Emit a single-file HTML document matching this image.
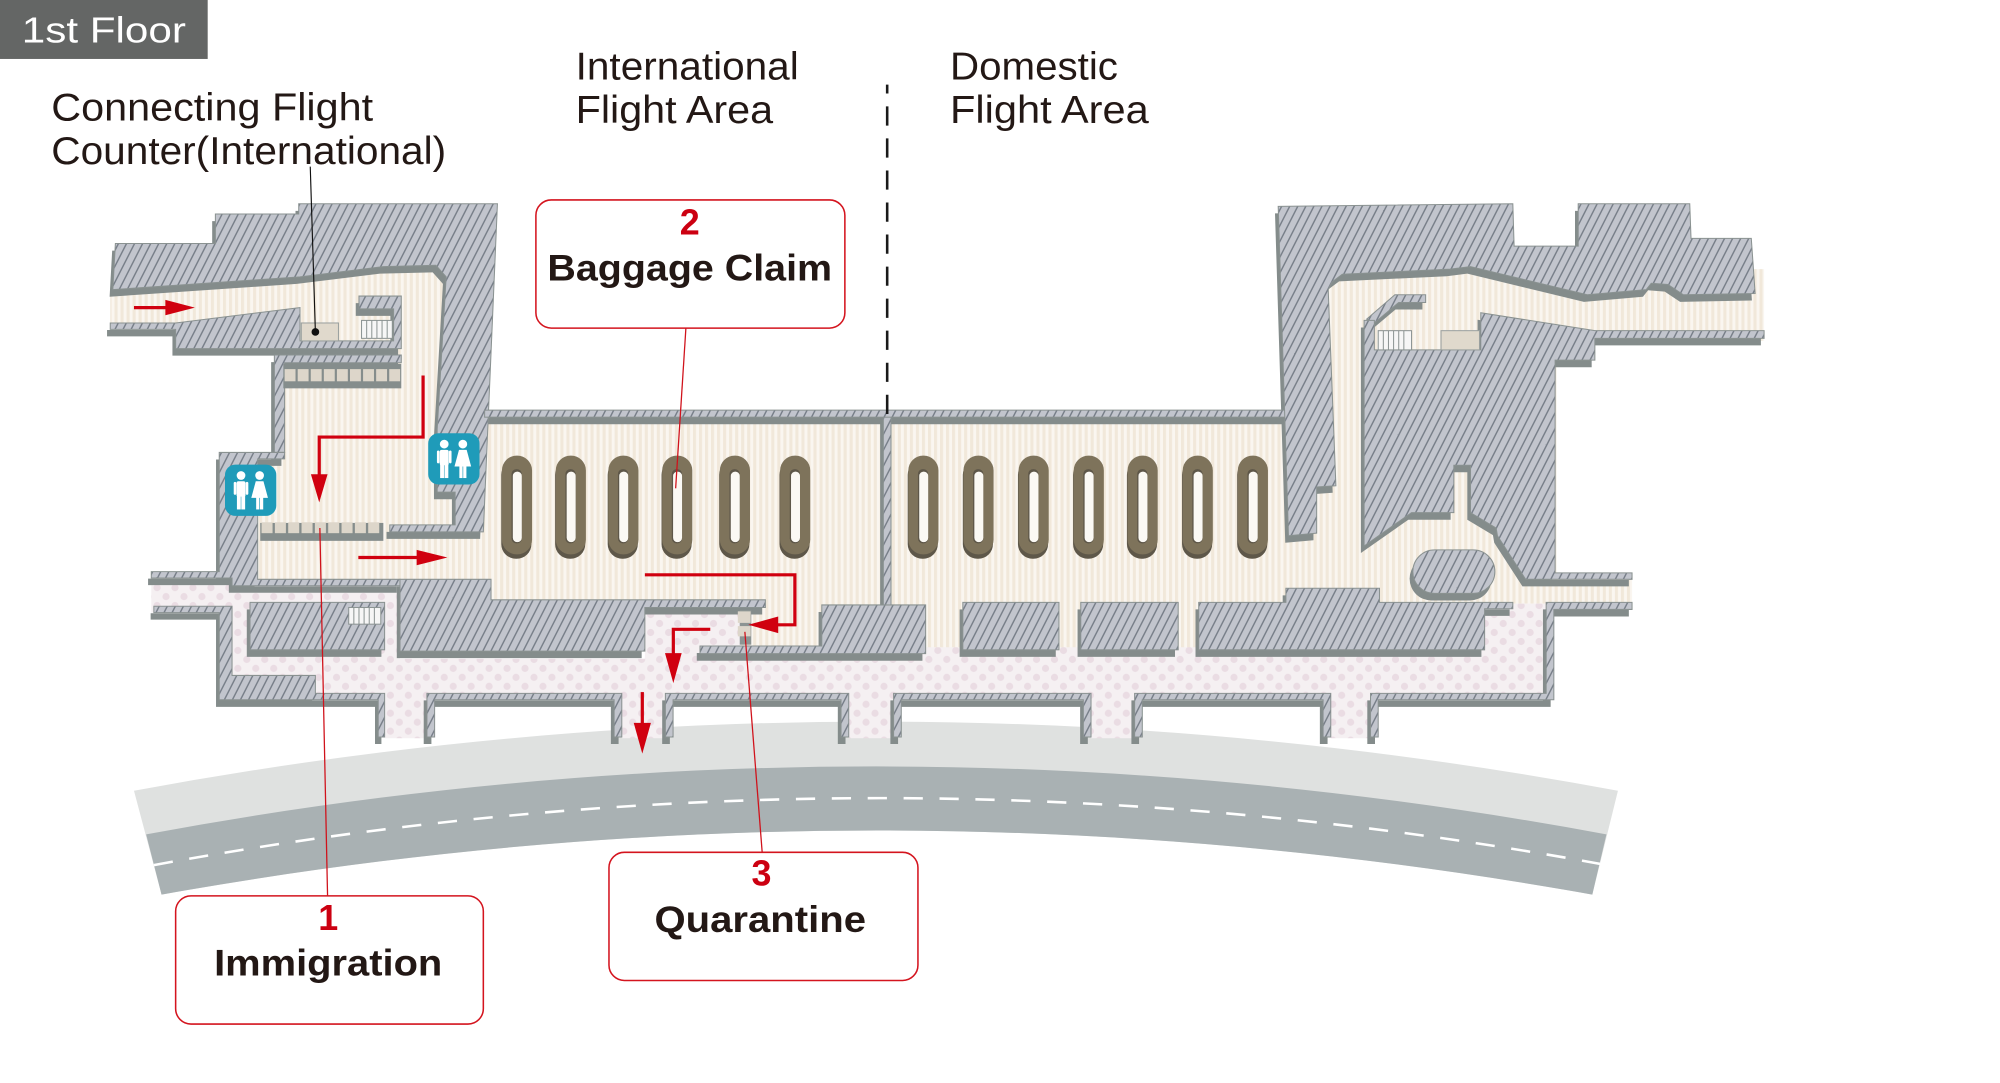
<!DOCTYPE html>
<html><head><meta charset="utf-8"><style>html,body{margin:0;padding:0;background:#fff;}svg{display:block;}</style></head>
<body>
<svg xmlns="http://www.w3.org/2000/svg" width="2000" height="1083" viewBox="0 0 1560 845" preserveAspectRatio="none" font-family="'Liberation Sans', sans-serif">
<defs>
<pattern id="hatch" patternUnits="userSpaceOnUse" width="5.6" height="12" patternTransform="rotate(27)">
<rect width="5.6" height="12" fill="#c2c5cd"/>
<line x1="0.6" y1="0" x2="0.6" y2="12" stroke="#767d87" stroke-width="1.1"/>
</pattern>
<pattern id="stripe" patternUnits="userSpaceOnUse" width="4.7" height="10">
<rect width="4.7" height="10" fill="#faf6f0"/>
<rect width="2.4" height="10" fill="#f1e8da"/>
</pattern>
<pattern id="dots" patternUnits="userSpaceOnUse" width="14" height="14">
<rect width="14" height="14" fill="#f5f0f2"/>
<circle cx="3.5" cy="3.5" r="2.8" fill="#eadce3"/>
<circle cx="10.5" cy="10.5" r="2.8" fill="#eadce3"/>
</pattern>
<g id="walls">
<polygon points="90,190 168,190 168,167 233,167 233,159 388,159 377,415 304,415 304,409.5 355,409.5 355,384 341,384 341,335 348,216 340,207 299,208 234,216 88,226"/>
<polygon points="86,252 137,252 234,240 234,266 307,266 307,241 280,241 280,231 313,231 313,272 137,272 137,257 86,257"/>
<polygon points="214,277 313,277 313,283 222,283 222,353 214,353"/>
<polygon points="171,353 222,353 222,358 201,358 201,452 312,452 312,457 181,457 181,451 118,451 118,446 171,446"/>
<polygon points="120,473 181,473 181,527 246,527 246,541 300,541 300,575 295,575 295,546 171,546 171,478 120,478"/>
<rect x="195" y="470" width="105" height="37"/>
<polygon points="312,452 383,452 383,468 597,468 597,474 503,474 503,508 312,508"/>
<polygon points="546,504 641,504 641,472 722,472 722,510 546,510"/>
<rect x="689" y="325" width="6" height="147"/>
<rect x="378" y="320" width="626" height="5.5"/>
<polygon points="997,161 1180,159 1181,192 1231,192 1231,159 1318,159 1319,186 1366,186 1369,229 1313,230 1301,222 1288,221 1284,226 1238,230 1147,208 1131,210 1047,214 1039,220 1036,226 1042,379 1027,380 1027,416 1005,418"/>
<polygon points="1066,249 1088,230 1112,230 1112,236 1091,236 1072,252"/>
<polygon points="1064,250 1072,250 1072,273 1155,273 1155,244 1244,258 1376,258 1376,264 1244,264 1244,281 1213,281 1213,447 1273,447 1273,452 1190,452 1168,418 1167,412 1147,400 1147,363 1134,363 1134,400 1101,400 1064,426"/>
<rect x="1102" y="429" width="64" height="34" rx="17"/>
<rect x="751" y="470" width="75" height="37"/>
<rect x="843" y="470" width="76" height="37"/>
<polygon points="935,470 1003,470 1003,459 1076,459 1076,470 1180,470 1180,475 1158,475 1158,507 935,507"/>
<polygon points="333,575 333,541 485,541 485,575 479,575 479,546 339,546 339,575"/>
<polygon points="519,575 519,541 662,541 662,575 656,575 656,546 525,546 525,575"/>
<polygon points="697,575 697,541 851,541 851,575 845,575 845,546 703,546 703,575"/>
<polygon points="885,575 885,541 1038,541 1038,575 1032,575 1032,546 891,546 891,575"/>
<polygon points="1069,575 1069,541 1206,541 1206,470 1273,470 1273,475.5 1212,475.5 1212,546 1075,546 1075,575"/>
</g>
<g id="car">
<rect x="-12" y="359" width="23.5" height="77" rx="11.5" fill="#5e5749"/>
<rect x="-11.5" y="355.5" width="23.5" height="77" rx="11.5" fill="#7e735b"/>
<rect x="-4" y="366" width="8" height="58" rx="3.8" fill="#5e5749"/>
<rect x="-3" y="368" width="7" height="55" rx="3.4" fill="#fbf9f4"/>
</g>
<g id="wc">
<rect width="40" height="40" rx="8" fill="#1f9bb9"/>
<circle cx="12.5" cy="8.5" r="3.4" fill="#fff"/>
<rect x="9" y="13" width="7" height="12" rx="1.5" fill="#fff"/>
<rect x="6.8" y="13.5" width="2" height="10" rx="1" fill="#fff"/>
<rect x="16.2" y="13.5" width="2" height="10" rx="1" fill="#fff"/>
<rect x="9.3" y="24" width="3" height="11" fill="#fff"/>
<rect x="12.7" y="24" width="3" height="11" fill="#fff"/>
<circle cx="27" cy="8.5" r="3.4" fill="#fff"/>
<polygon points="24,13 30,13 33.5,26 20.5,26" fill="#fff"/>
<rect x="24.3" y="25" width="2.5" height="10" fill="#fff"/>
<rect x="27.3" y="25" width="2.5" height="10" fill="#fff"/>
</g>
</defs>

<!-- header -->
<rect x="0" y="0" width="162" height="46" fill="#646665"/>
<text x="17" y="33" font-size="28" fill="#fff" textLength="128" lengthAdjust="spacingAndGlyphs">1st Floor</text>

<!-- labels -->
<g fill="#231815" font-size="30">
<text x="40" y="94" textLength="251" lengthAdjust="spacingAndGlyphs">Connecting Flight</text>
<text x="40" y="128" textLength="308" lengthAdjust="spacingAndGlyphs">Counter(International)</text>
<text x="449" y="62" textLength="174" lengthAdjust="spacingAndGlyphs">International</text>
<text x="449" y="96" textLength="154" lengthAdjust="spacingAndGlyphs">Flight Area</text>
<text x="741" y="62" textLength="131" lengthAdjust="spacingAndGlyphs">Domestic</text>
<text x="741" y="96" textLength="155" lengthAdjust="spacingAndGlyphs">Flight Area</text>
</g>

<!-- road -->
<path d="M104.5,617 Q683,509 1262,617 L1242,698 Q684,598 126,698 Z" fill="#dfe1e0"/>
<path d="M114,651 Q683,545 1253,651 L1242,698 Q684,598 126,698 Z" fill="#a9b1b3"/>
<path d="M120,675 Q684,571 1248,674" fill="none" stroke="#fff" stroke-width="2" stroke-dasharray="15 13"/>

<!-- floors -->
<polygon points="86,224 234,214 300,206 340,205 350,213 350,322 384,322 384,463 175,463 175,355 214,355 214,277 137,277 137,253 86,253" fill="url(#stripe)"/>
<polygon points="378,326 1006,326 1006,506 578,506 578,470 378,470" fill="url(#stripe)"/>
<polygon points="1034,210 1376,210 1376,266 1214,266 1214,452 1273,452 1273,471 1158,471 1158,506 1004,506 1004,418 1018,418 1018,330 1034,330" fill="url(#stripe)"/>
<polygon points="118,451 193,451 193,457 312,457 312,514 503,514 503,476 578,476 578,505 1158,505 1158,471 1206,471 1206,546 171,546 171,478 118,478" fill="url(#dots)"/>
<g fill="url(#dots)">
<rect x="300" y="540" width="33" height="36"/>
<rect x="485" y="540" width="34" height="36"/>
<rect x="662" y="540" width="35" height="36"/>
<rect x="851" y="540" width="34" height="36"/>
<rect x="1038" y="540" width="31" height="36"/>
</g>

<!-- walls -->
<use href="#walls" transform="translate(-2.5,5.5)" fill="#848c8b"/>
<use href="#walls" fill="url(#hatch)" stroke="#8a9291" stroke-width="0.8"/>

<!-- counters left corridor -->
<rect x="235" y="252" width="29" height="14" fill="#e0d9cc" stroke="#9aa09f" stroke-width="0.8"/>
<circle cx="246" cy="259" r="3" fill="#111"/>
<rect x="282" y="250" width="24" height="14" fill="#f6f6f6" stroke="#8c9493" stroke-width="0.8"/>
<g stroke="#8c9493" stroke-width="0.8">
<line x1="286" y1="250" x2="286" y2="264"/><line x1="290" y1="250" x2="290" y2="264"/><line x1="294" y1="250" x2="294" y2="264"/><line x1="298" y1="250" x2="298" y2="264"/><line x1="302" y1="250" x2="302" y2="264"/>
</g>
<!-- counter row -->
<rect x="221" y="284" width="92" height="19" fill="#858d8c"/>
<g fill="#ddd6ca">
<rect x="222" y="288" width="8.5" height="9.5"/><rect x="232.2" y="288" width="8.5" height="9.5"/><rect x="242.4" y="288" width="8.5" height="9.5"/><rect x="252.6" y="288" width="8.5" height="9.5"/><rect x="262.8" y="288" width="8.5" height="9.5"/><rect x="273" y="288" width="8.5" height="9.5"/><rect x="283.2" y="288" width="8.5" height="9.5"/><rect x="293.4" y="288" width="8.5" height="9.5"/><rect x="303.6" y="288" width="8.5" height="9.5"/>
</g>
<!-- immigration booths -->
<rect x="203" y="408" width="96" height="14" fill="#858d8c"/>
<g fill="#ddd6ca">
<rect x="204" y="407.5" width="8.6" height="8.5"/><rect x="214.4" y="407.5" width="8.6" height="8.5"/><rect x="224.8" y="407.5" width="8.6" height="8.5"/><rect x="235.2" y="407.5" width="8.6" height="8.5"/><rect x="245.6" y="407.5" width="8.6" height="8.5"/><rect x="256" y="407.5" width="8.6" height="8.5"/><rect x="266.4" y="407.5" width="8.6" height="8.5"/><rect x="276.8" y="407.5" width="8.6" height="8.5"/><rect x="287.2" y="407.5" width="8.6" height="8.5"/>
</g>
<!-- railing in lower left block -->
<rect x="272" y="474" width="25" height="13" fill="#f6f6f6" stroke="#8c9493" stroke-width="0.8"/>
<g stroke="#8c9493" stroke-width="0.8">
<line x1="276" y1="474" x2="276" y2="487"/><line x1="280" y1="474" x2="280" y2="487"/><line x1="284" y1="474" x2="284" y2="487"/><line x1="288" y1="474" x2="288" y2="487"/><line x1="292" y1="474" x2="292" y2="487"/>
</g>
<!-- right wing escalator and counter -->
<rect x="1075" y="258" width="26" height="15" fill="#f6f6f6" stroke="#8c9493" stroke-width="0.8"/>
<g stroke="#8c9493" stroke-width="0.8">
<line x1="1079" y1="258" x2="1079" y2="273"/><line x1="1083" y1="258" x2="1083" y2="273"/><line x1="1087" y1="258" x2="1087" y2="273"/><line x1="1091" y1="258" x2="1091" y2="273"/><line x1="1095" y1="258" x2="1095" y2="273"/>
</g>
<rect x="1124" y="258" width="30" height="15" fill="#e0d9cc" stroke="#9aa09f" stroke-width="0.8"/>
<!-- quarantine booth -->
<rect x="577" y="476" width="9" height="27" fill="#8c9493"/>
<rect x="575.5" y="477" width="10" height="9" fill="#ddd6ca"/>
<rect x="575.5" y="488.5" width="10" height="8" fill="#ddd6ca"/>

<!-- carousels -->
<use href="#car" x="403"/><use href="#car" x="445"/><use href="#car" x="486"/><use href="#car" x="528"/><use href="#car" x="573"/><use href="#car" x="620"/>
<use href="#car" x="720"/><use href="#car" x="763"/><use href="#car" x="806"/><use href="#car" x="849"/><use href="#car" x="891"/><use href="#car" x="934"/><use href="#car" x="977"/>

<!-- toilets -->
<use href="#wc" transform="translate(175.5,362.5)"/>
<use href="#wc" transform="translate(334,338)"/>

<!-- red arrows -->
<g stroke="#d0000f" stroke-width="2.5" fill="none" stroke-linejoin="miter">
<line x1="104.5" y1="240" x2="131" y2="240"/>
<polyline points="330,293 330,341 249,341 249,372"/>
<line x1="279.5" y1="435" x2="327" y2="435"/>
<polyline points="503,448.5 620,448.5 620,487.5 605,487.5"/>
<polyline points="554,491 525.2,491 525.2,511"/>
<line x1="501" y1="540" x2="501" y2="566"/>
</g>
<g fill="#d0000f">
<polygon points="129,234 152,240 129,246"/>
<polygon points="242.5,370 255.5,370 249,392"/>
<polygon points="325,429 349,435 325,441"/>
<polygon points="607,481 607,494 583.7,487.5"/>
<polygon points="518.7,509.6 531.7,509.6 525.2,533"/>
<polygon points="494.3,564 507.7,564 501,588"/>
</g>

<!-- divider -->
<line x1="692" y1="66" x2="692" y2="323" stroke="#1a1a1a" stroke-width="2" stroke-dasharray="15 10" stroke-dashoffset="8"/>

<!-- leader lines -->
<line x1="242" y1="130" x2="246" y2="259" stroke="#111" stroke-width="0.9"/>
<g stroke="#d0121b" stroke-width="1">
<line x1="535" y1="256" x2="527" y2="381"/>
<line x1="249.5" y1="412" x2="255.5" y2="699"/>
<line x1="581" y1="493" x2="594.5" y2="665"/>
</g>

<!-- callouts -->
<g fill="#fff" stroke="#d4141e" stroke-width="1.2">
<rect x="418" y="156" width="241" height="100" rx="12"/>
<rect x="137" y="699" width="240" height="100" rx="12"/>
<rect x="475" y="665" width="241" height="100" rx="12"/>
</g>
<g font-weight="bold" text-anchor="middle">
<text x="538" y="183" font-size="28" fill="#cc0011">2</text>
<text x="538" y="219" font-size="29" fill="#231815" textLength="222" lengthAdjust="spacingAndGlyphs">Baggage Claim</text>
<text x="256" y="725.5" font-size="28" fill="#cc0011">1</text>
<text x="256" y="761" font-size="29" fill="#231815" textLength="178" lengthAdjust="spacingAndGlyphs">Immigration</text>
<text x="594" y="691" font-size="28" fill="#cc0011">3</text>
<text x="593" y="727" font-size="29" fill="#231815" textLength="165" lengthAdjust="spacingAndGlyphs">Quarantine</text>
</g>
</svg>
</body></html>
